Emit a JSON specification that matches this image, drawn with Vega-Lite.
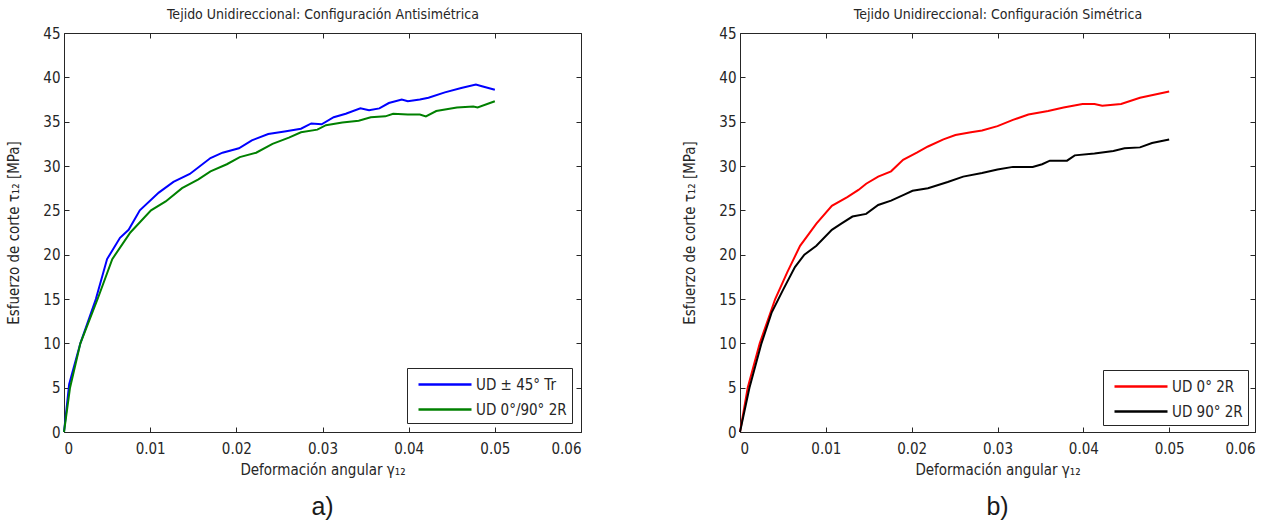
{
  "$schema": "https://vega.github.io/schema/vega-lite/v6.json",
  "background": "white",
  "padding": {"left": 6, "top": 7, "right": 5, "bottom": 5},
  "config": {
    "font": "DejaVu Sans Condensed, Liberation Sans",
    "view": {"stroke": "#262626", "strokeWidth": 1},
    "axis": {"labelFont": "DejaVu Sans Condensed, Liberation Sans", "titleFont": "DejaVu Sans Condensed, Liberation Sans", "labelFontSize": 15, "titleFontSize": 15, "labelColor": "#262626", "titleColor": "#262626", "titleFontWeight": "normal", "grid": false, "domain": false, "tickColor": "#262626", "tickSize": -5, "labelPadding": 9},
    "legend": {"labelFont": "DejaVu Sans Condensed, Liberation Sans", "labelFontSize": 15, "labelColor": "#262626"},
    "title": {"font": "Liberation Sans", "fontSize": 25, "fontWeight": "normal", "color": "#1a1a1a"}
  },
  "datasets": {
    "a": [
      {"s": "UD ± 45° Tr", "x": 0, "y": 0},
      {"s": "UD ± 45° Tr", "x": 0.0006, "y": 5.4},
      {"s": "UD ± 45° Tr", "x": 0.0019, "y": 10},
      {"s": "UD ± 45° Tr", "x": 0.0037, "y": 15},
      {"s": "UD ± 45° Tr", "x": 0.0050, "y": 19.5},
      {"s": "UD ± 45° Tr", "x": 0.0065, "y": 21.9},
      {"s": "UD ± 45° Tr", "x": 0.0075, "y": 22.8},
      {"s": "UD ± 45° Tr", "x": 0.0088, "y": 25},
      {"s": "UD ± 45° Tr", "x": 0.0110, "y": 27},
      {"s": "UD ± 45° Tr", "x": 0.0127, "y": 28.2},
      {"s": "UD ± 45° Tr", "x": 0.0146, "y": 29.1},
      {"s": "UD ± 45° Tr", "x": 0.0170, "y": 30.9},
      {"s": "UD ± 45° Tr", "x": 0.0184, "y": 31.5},
      {"s": "UD ± 45° Tr", "x": 0.0203, "y": 32},
      {"s": "UD ± 45° Tr", "x": 0.0218, "y": 32.9},
      {"s": "UD ± 45° Tr", "x": 0.0237, "y": 33.6},
      {"s": "UD ± 45° Tr", "x": 0.0256, "y": 33.9},
      {"s": "UD ± 45° Tr", "x": 0.0275, "y": 34.2},
      {"s": "UD ± 45° Tr", "x": 0.0287, "y": 34.8},
      {"s": "UD ± 45° Tr", "x": 0.0299, "y": 34.7},
      {"s": "UD ± 45° Tr", "x": 0.0313, "y": 35.5},
      {"s": "UD ± 45° Tr", "x": 0.0327, "y": 35.9},
      {"s": "UD ± 45° Tr", "x": 0.0344, "y": 36.5},
      {"s": "UD ± 45° Tr", "x": 0.0354, "y": 36.3},
      {"s": "UD ± 45° Tr", "x": 0.0366, "y": 36.5},
      {"s": "UD ± 45° Tr", "x": 0.0377, "y": 37.1},
      {"s": "UD ± 45° Tr", "x": 0.0392, "y": 37.5},
      {"s": "UD ± 45° Tr", "x": 0.0399, "y": 37.3},
      {"s": "UD ± 45° Tr", "x": 0.0413, "y": 37.5},
      {"s": "UD ± 45° Tr", "x": 0.0423, "y": 37.7},
      {"s": "UD ± 45° Tr", "x": 0.0442, "y": 38.3},
      {"s": "UD ± 45° Tr", "x": 0.0461, "y": 38.8},
      {"s": "UD ± 45° Tr", "x": 0.0478, "y": 39.2},
      {"s": "UD ± 45° Tr", "x": 0.0485, "y": 39.0},
      {"s": "UD ± 45° Tr", "x": 0.0500, "y": 38.6},
      {"s": "UD 0°/90° 2R", "x": 0, "y": 0},
      {"s": "UD 0°/90° 2R", "x": 0.0007, "y": 5},
      {"s": "UD 0°/90° 2R", "x": 0.0019, "y": 10},
      {"s": "UD 0°/90° 2R", "x": 0.0039, "y": 15},
      {"s": "UD 0°/90° 2R", "x": 0.0056, "y": 19.5},
      {"s": "UD 0°/90° 2R", "x": 0.0077, "y": 22.5},
      {"s": "UD 0°/90° 2R", "x": 0.0101, "y": 25},
      {"s": "UD 0°/90° 2R", "x": 0.0118, "y": 26},
      {"s": "UD 0°/90° 2R", "x": 0.0137, "y": 27.5},
      {"s": "UD 0°/90° 2R", "x": 0.0156, "y": 28.5},
      {"s": "UD 0°/90° 2R", "x": 0.0170, "y": 29.4},
      {"s": "UD 0°/90° 2R", "x": 0.0189, "y": 30.2},
      {"s": "UD 0°/90° 2R", "x": 0.0204, "y": 31},
      {"s": "UD 0°/90° 2R", "x": 0.0223, "y": 31.5},
      {"s": "UD 0°/90° 2R", "x": 0.0242, "y": 32.5},
      {"s": "UD 0°/90° 2R", "x": 0.0261, "y": 33.2},
      {"s": "UD 0°/90° 2R", "x": 0.0275, "y": 33.8},
      {"s": "UD 0°/90° 2R", "x": 0.0294, "y": 34.1},
      {"s": "UD 0°/90° 2R", "x": 0.0304, "y": 34.6},
      {"s": "UD 0°/90° 2R", "x": 0.0323, "y": 34.9},
      {"s": "UD 0°/90° 2R", "x": 0.0342, "y": 35.1},
      {"s": "UD 0°/90° 2R", "x": 0.0356, "y": 35.5},
      {"s": "UD 0°/90° 2R", "x": 0.0373, "y": 35.6},
      {"s": "UD 0°/90° 2R", "x": 0.0382, "y": 35.9},
      {"s": "UD 0°/90° 2R", "x": 0.0399, "y": 35.8},
      {"s": "UD 0°/90° 2R", "x": 0.0413, "y": 35.8},
      {"s": "UD 0°/90° 2R", "x": 0.0420, "y": 35.6},
      {"s": "UD 0°/90° 2R", "x": 0.0432, "y": 36.2},
      {"s": "UD 0°/90° 2R", "x": 0.0456, "y": 36.6},
      {"s": "UD 0°/90° 2R", "x": 0.0475, "y": 36.7},
      {"s": "UD 0°/90° 2R", "x": 0.0480, "y": 36.6},
      {"s": "UD 0°/90° 2R", "x": 0.0500, "y": 37.3}
    ],
    "b": [
      {"s": "UD 0° 2R", "x": 0, "y": 0},
      {"s": "UD 0° 2R", "x": 0.0009, "y": 5},
      {"s": "UD 0° 2R", "x": 0.0023, "y": 10},
      {"s": "UD 0° 2R", "x": 0.0041, "y": 15},
      {"s": "UD 0° 2R", "x": 0.0055, "y": 18},
      {"s": "UD 0° 2R", "x": 0.0070, "y": 21},
      {"s": "UD 0° 2R", "x": 0.0089, "y": 23.5},
      {"s": "UD 0° 2R", "x": 0.0107, "y": 25.5},
      {"s": "UD 0° 2R", "x": 0.0125, "y": 26.5},
      {"s": "UD 0° 2R", "x": 0.0138, "y": 27.3},
      {"s": "UD 0° 2R", "x": 0.0147, "y": 28},
      {"s": "UD 0° 2R", "x": 0.0161, "y": 28.8},
      {"s": "UD 0° 2R", "x": 0.0176, "y": 29.4},
      {"s": "UD 0° 2R", "x": 0.0190, "y": 30.7},
      {"s": "UD 0° 2R", "x": 0.0206, "y": 31.5},
      {"s": "UD 0° 2R", "x": 0.0219, "y": 32.2},
      {"s": "UD 0° 2R", "x": 0.0237, "y": 33},
      {"s": "UD 0° 2R", "x": 0.0251, "y": 33.5},
      {"s": "UD 0° 2R", "x": 0.0269, "y": 33.8},
      {"s": "UD 0° 2R", "x": 0.0282, "y": 34},
      {"s": "UD 0° 2R", "x": 0.0300, "y": 34.5},
      {"s": "UD 0° 2R", "x": 0.0318, "y": 35.2},
      {"s": "UD 0° 2R", "x": 0.0336, "y": 35.8},
      {"s": "UD 0° 2R", "x": 0.0359, "y": 36.2},
      {"s": "UD 0° 2R", "x": 0.0377, "y": 36.6},
      {"s": "UD 0° 2R", "x": 0.0399, "y": 37},
      {"s": "UD 0° 2R", "x": 0.0413, "y": 37},
      {"s": "UD 0° 2R", "x": 0.0422, "y": 36.8},
      {"s": "UD 0° 2R", "x": 0.0444, "y": 37},
      {"s": "UD 0° 2R", "x": 0.0466, "y": 37.7},
      {"s": "UD 0° 2R", "x": 0.0500, "y": 38.4},
      {"s": "UD 90° 2R", "x": 0, "y": 0},
      {"s": "UD 90° 2R", "x": 0.0011, "y": 5},
      {"s": "UD 90° 2R", "x": 0.0025, "y": 10},
      {"s": "UD 90° 2R", "x": 0.0037, "y": 13.5},
      {"s": "UD 90° 2R", "x": 0.0050, "y": 16},
      {"s": "UD 90° 2R", "x": 0.0064, "y": 18.6},
      {"s": "UD 90° 2R", "x": 0.0075, "y": 20},
      {"s": "UD 90° 2R", "x": 0.0089, "y": 21},
      {"s": "UD 90° 2R", "x": 0.0107, "y": 22.8},
      {"s": "UD 90° 2R", "x": 0.0118, "y": 23.5},
      {"s": "UD 90° 2R", "x": 0.0131, "y": 24.3},
      {"s": "UD 90° 2R", "x": 0.0147, "y": 24.6},
      {"s": "UD 90° 2R", "x": 0.0161, "y": 25.6},
      {"s": "UD 90° 2R", "x": 0.0176, "y": 26.1},
      {"s": "UD 90° 2R", "x": 0.0192, "y": 26.8},
      {"s": "UD 90° 2R", "x": 0.0201, "y": 27.2},
      {"s": "UD 90° 2R", "x": 0.0219, "y": 27.5},
      {"s": "UD 90° 2R", "x": 0.0242, "y": 28.2},
      {"s": "UD 90° 2R", "x": 0.0260, "y": 28.8},
      {"s": "UD 90° 2R", "x": 0.0282, "y": 29.2},
      {"s": "UD 90° 2R", "x": 0.0300, "y": 29.6},
      {"s": "UD 90° 2R", "x": 0.0318, "y": 29.9},
      {"s": "UD 90° 2R", "x": 0.0341, "y": 29.9},
      {"s": "UD 90° 2R", "x": 0.0352, "y": 30.2},
      {"s": "UD 90° 2R", "x": 0.0361, "y": 30.6},
      {"s": "UD 90° 2R", "x": 0.0381, "y": 30.6},
      {"s": "UD 90° 2R", "x": 0.0390, "y": 31.2},
      {"s": "UD 90° 2R", "x": 0.0413, "y": 31.4},
      {"s": "UD 90° 2R", "x": 0.0435, "y": 31.7},
      {"s": "UD 90° 2R", "x": 0.0448, "y": 32},
      {"s": "UD 90° 2R", "x": 0.0466, "y": 32.1},
      {"s": "UD 90° 2R", "x": 0.0480, "y": 32.6},
      {"s": "UD 90° 2R", "x": 0.0500, "y": 33}
    ]
  },
  "spacing": 100,
  "resolve": {"scale": {"color": "independent"}, "legend": {"color": "independent"}},
  "hconcat": [
    {
      "width": 517, "height": 399,
      "title": {"text": "a)", "orient": "bottom", "offset": 18},
      "data": {"name": "a"},
      "resolve": {"axis": {"x": "independent", "y": "independent"}},
      "layer": [
        {
          "mark": {"type": "line", "strokeWidth": 2},
          "encoding": {
            "x": {"field": "x", "type": "quantitative", "scale": {"domain": [0, 0.06], "nice": false}, "axis": {"values": [0, 0.01, 0.02, 0.03, 0.04, 0.05, 0.06], "format": "~g", "title": "Deformación angular γ₁₂", "titlePadding": 6, "labelPadding": 14}},
            "y": {"field": "y", "type": "quantitative", "scale": {"domain": [0, 45], "nice": false}, "axis": {"values": [0, 5, 10, 15, 20, 25, 30, 35, 40, 45], "title": "Esfuerzo de corte τ₁₂ [MPa]", "titlePadding": 21}},
            "color": {"field": "s", "type": "nominal", "scale": {"domain": ["UD ± 45° Tr", "UD 0°/90° 2R"], "range": ["#0000ff", "#008000"]},
              "legend": {"title": null, "orient": "bottom-right", "offset": 9, "symbolType": "M-0.5,0H4.8", "symbolSize": 400, "symbolStrokeWidth": 2.5, "strokeColor": "#262626", "fillColor": "white", "padding": 5, "rowPadding": 5, "labelOffset": 41}}
          }
        },
        {
          "mark": {"type": "line", "strokeOpacity": 0},
          "encoding": {
            "x": {"field": "x", "type": "quantitative", "scale": {"domain": [0, 0.06], "nice": false}, "axis": {"orient": "top", "values": [0, 0.01, 0.02, 0.03, 0.04, 0.05, 0.06], "labels": false, "title": "Tejido Unidireccional: Configuración Antisimétrica", "titlePadding": 11, "titleFontSize": 14}},
            "y": {"field": "y", "type": "quantitative", "scale": {"domain": [0, 45], "nice": false}, "axis": {"orient": "right", "values": [0, 5, 10, 15, 20, 25, 30, 35, 40, 45], "labels": false, "title": null}},
            "detail": {"field": "s"}
          }
        }
      ]
    },
    {
      "width": 515, "height": 399,
      "title": {"text": "b)", "orient": "bottom", "offset": 18},
      "data": {"name": "b"},
      "resolve": {"axis": {"x": "independent", "y": "independent"}},
      "layer": [
        {
          "mark": {"type": "line", "strokeWidth": 2},
          "encoding": {
            "x": {"field": "x", "type": "quantitative", "scale": {"domain": [0, 0.06], "nice": false}, "axis": {"values": [0, 0.01, 0.02, 0.03, 0.04, 0.05, 0.06], "format": "~g", "title": "Deformación angular γ₁₂", "titlePadding": 6, "labelPadding": 14}},
            "y": {"field": "y", "type": "quantitative", "scale": {"domain": [0, 45], "nice": false}, "axis": {"values": [0, 5, 10, 15, 20, 25, 30, 35, 40, 45], "title": "Esfuerzo de corte τ₁₂ [MPa]", "titlePadding": 21}},
            "color": {"field": "s", "type": "nominal", "scale": {"domain": ["UD 0° 2R", "UD 90° 2R"], "range": ["#ff0000", "#000000"]},
              "legend": {"title": null, "orient": "bottom-right", "offset": 7, "symbolType": "M-0.5,0H4.8", "symbolSize": 400, "symbolStrokeWidth": 2.5, "strokeColor": "#262626", "fillColor": "white", "padding": 5, "rowPadding": 5, "labelOffset": 41}}
          }
        },
        {
          "mark": {"type": "line", "strokeOpacity": 0},
          "encoding": {
            "x": {"field": "x", "type": "quantitative", "scale": {"domain": [0, 0.06], "nice": false}, "axis": {"orient": "top", "values": [0, 0.01, 0.02, 0.03, 0.04, 0.05, 0.06], "labels": false, "title": "Tejido Unidireccional: Configuración Simétrica", "titlePadding": 11, "titleFontSize": 14}},
            "y": {"field": "y", "type": "quantitative", "scale": {"domain": [0, 45], "nice": false}, "axis": {"orient": "right", "values": [0, 5, 10, 15, 20, 25, 30, 35, 40, 45], "labels": false, "title": null}},
            "detail": {"field": "s"}
          }
        }
      ]
    }
  ]
}
